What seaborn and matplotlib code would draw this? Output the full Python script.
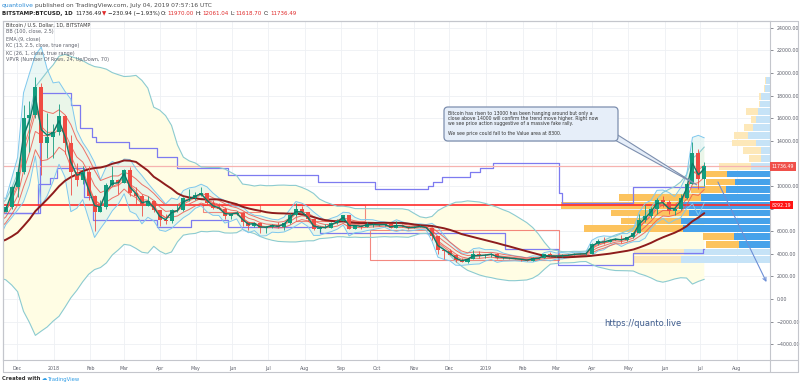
import numpy as np
import pandas as pd
import matplotlib
matplotlib.use("Agg")
import matplotlib.pyplot as plt
import matplotlib.dates as mdates
import matplotlib.transforms as mtransforms
from matplotlib.patches import FancyBboxPatch, Polygon, Rectangle
from matplotlib.lines import Line2D
from matplotlib.ticker import FuncFormatter
import seaborn as sns

sns.set_theme(style="white")
plt.rcParams["font.family"] = ["DejaVu Sans"]

# ---------------- data (5-day bars, BITSTAMP:BTCUSD) ----------------
first_bar = "2017-08-11"
bar_days = 5
first_open = 3650
close = [4150, 4100, 4350, 4580, 4230, 4300, 3250, 3900, 3650, 4200, 4230, 4600, 5640, 5600, 5520, 5750, 7150, 7450, 6500, 7700,
         8100, 9900, 11200, 16000, 16300, 18800, 13800, 14300, 14800, 16200, 13800, 11200, 10500, 11200, 9100, 7700, 8100, 10100,
         10500, 10300, 11400, 9400, 9100, 8200, 8700, 7900, 7000, 6900, 7900, 7900, 8900, 8900, 9200, 9400, 8500, 8050, 8000, 7350,
         7500, 7650, 6800, 6450, 6700, 6250, 6350, 6550, 6400, 6700, 7400, 7950, 7700, 7050, 6150, 6300, 6300, 6700, 6900, 7400,
         6200, 6500, 6400, 6600, 6600, 6550, 6600, 6300, 6550, 6450, 6250, 6350, 6450, 6300, 5550, 4300, 4250, 3900, 3450, 3300,
         3550, 3950, 3850, 3900, 4000, 3650, 3650, 3600, 3550, 3500, 3400, 3600, 3620, 3950, 3800, 3800, 3850, 3870, 3990, 3990,
         4020, 4900, 5150, 5050, 5250, 5350, 5200, 5450, 5800, 7000, 7350, 7950, 8750, 8550, 7800, 8000, 8900, 10200, 12900, 10600,
         11736.49]
high = [4400, 4480, 4400, 4650, 4980, 4700, 4400, 4100, 4100, 4250, 4450, 4650, 5850, 5850, 6170, 6000, 7400, 7800, 7500, 7900,
        8300, 9970, 11500, 17200, 17500, 19666, 19100, 16500, 15500, 17250, 16300, 14500, 12000, 11800, 11800, 9200, 8800, 10300,
        11800, 10600, 11500, 11700, 9900, 9300, 9100, 8800, 7900, 7500, 8000, 8400, 9000, 9700, 9500, 9950, 9400, 8800, 8500, 8100,
        7550, 7750, 7700, 6850, 6850, 6750, 6450, 6650, 6800, 6750, 7600, 8450, 8250, 7700, 7150, 6500, 6600, 6800, 7100, 7400,
        7400, 6550, 6550, 6800, 6700, 6650, 6650, 6600, 6900, 6600, 6500, 6450, 6550, 6450, 6300, 5550, 4300, 4400, 3950, 3600,
        3580, 4300, 4250, 3950, 4100, 4100, 3700, 3700, 3650, 3550, 3500, 3700, 3670, 4000, 4200, 3880, 3950, 3950, 4050, 4050,
        4050, 4950, 5300, 5450, 5280, 5400, 5650, 5450, 5950, 7500, 8350, 8100, 8900, 9100, 8800, 8150, 9300, 10250, 13880, 13300,
        12100]
low = [3450, 3950, 3950, 4300, 4120, 4150, 3000, 3000, 3600, 3650, 4150, 4150, 4600, 5400, 5100, 5400, 5700, 6950, 5500, 6300,
       7700, 8000, 9000, 11100, 13000, 16000, 11000, 12500, 12500, 14500, 12800, 9200, 10000, 10200, 8800, 6000, 7700, 8000,
       10000, 9300, 10300, 9100, 8300, 7300, 8200, 7700, 6500, 6600, 6700, 7700, 7800, 8700, 8800, 9100, 8300, 8000, 7950, 7050,
       7100, 7400, 6500, 6100, 6400, 5800, 5800, 6300, 6300, 6100, 6650, 7350, 7650, 6900, 6100, 5900, 6300, 6250, 6600, 6900,
       6150, 6200, 6150, 6400, 6350, 6450, 6500, 6250, 6300, 6400, 6200, 6250, 6350, 6250, 5200, 4000, 3500, 3850, 3250, 3300,
       3150, 3550, 3600, 3650, 3750, 3550, 3500, 3500, 3500, 3380, 3350, 3380, 3560, 3620, 3750, 3750, 3680, 3850, 3850, 3950,
       3900, 3950, 4800, 4900, 5050, 5200, 4950, 5150, 5400, 5800, 6800, 7200, 7500, 8100, 7500, 7450, 7900, 8850, 10200, 9700,
       10000]

# Volume profile (VPVR, 24 rows, bottom -> top)
vp_low, vp_high = 3120, 19666
vp_up = [47, 50, 33, 31, 99, 60, 78, 120, 82, 35, 29, 23, 32, 12, 18, 24, 14, 9, 5, 12, 1, 2, 1, 1]
vp_down = [89, 86, 31, 36, 87, 89, 81, 89, 69, 44, 35, 43, 19, 9, 9, 14, 22, 17, 14, 12, 10, 9, 5, 4]
value_area_rows = (2, 11)
poc_price = 8292.19
last_price = 11736.49

# step lines drawn on the chart
upper_step_dates = ["2017-11-19", "2017-12-20", "2018-01-16", "2018-01-23", "2018-02-02", "2018-02-06", "2018-03-06",
                    "2018-03-29", "2018-04-15", "2018-05-28", "2018-08-12", "2018-09-29", "2018-11-13", "2018-11-17",
                    "2018-11-25", "2018-12-19", "2018-12-27", "2019-01-07", "2019-03-04", "2019-03-06", "2019-05-05",
                    "2019-07-04"]
upper_step_levels = [7600, 18200, 17200, 15100, 14300, 13900, 13400, 12600, 11600, 11000, 10350, 9750, 10000, 10350,
                     10800, 11250, 11600, 12050, 9400, 8500, 9900, 9900]
lower_step_dates = ["2017-11-19", "2017-12-19", "2017-12-29", "2018-01-04", "2018-01-27", "2018-02-03", "2018-03-29",
                    "2018-04-27", "2018-05-28", "2018-08-14", "2019-01-17", "2019-03-03", "2019-05-05", "2019-07-03",
                    "2019-07-04"]
lower_step_levels = [7600, 10200, 10700, 11600, 9000, 7000, 6400, 7000, 6400, 5850, 4450, 3000, 4050, 4450, 4450]

# red rectangles (start, end, top, bottom)
rect_start = ["2018-05-07", "2018-07-25", "2018-09-25"]
rect_end = ["2018-06-24", "2018-09-21", "2019-03-04"]
rect_top = [8300, 8300, 6100]
rect_bottom = [7700, 6900, 3450]

month_ticks = pd.date_range("2017-12-01", "2019-08-01", freq="MS")
hidden_price_labels = [8000, 12000]   # covered by the price tags in the original

# ---------------- indicators ----------------
dates = pd.date_range(first_bar, periods=len(close), freq=f"{bar_days}D")
df = pd.DataFrame({"close": close, "high": high, "low": low}, index=dates)
df["open"] = df["close"].shift(1).fillna(first_open)
xc = mdates.date2num(dates) + bar_days / 2.0

c = df["close"]
w = int(round(100 / bar_days))
bb_basis = c.rolling(w, min_periods=1).mean()
bb_sd = c.rolling(w, min_periods=2).std(ddof=0).bfill()
bb_up = bb_basis + 2.5 * bb_sd
bb_lo = bb_basis - 2.5 * bb_sd
ema9 = c.ewm(span=9 / bar_days, adjust=False).mean()
prev = c.shift(1).fillna(first_open)
tr = pd.concat([df.high - df.low, (df.high - prev).abs(), (df.low - prev).abs()], axis=1).max(axis=1)
tr_daily = tr / np.sqrt(bar_days)
kc13_b = c.ewm(span=13 / bar_days, adjust=False).mean()
atr13 = tr_daily.ewm(span=13 / bar_days, adjust=False).mean()
kc13_u, kc13_l = kc13_b + 2.5 * atr13, kc13_b - 2.5 * atr13
kc26_b = c.ewm(span=26 / bar_days, adjust=False).mean()
atr26 = tr_daily.ewm(span=26 / bar_days, adjust=False).mean()
kc26_u, kc26_l = kc26_b + 1.0 * atr26, kc26_b - 1.0 * atr26

# ---------------- figure ----------------
W_PX, H_PX = 800, 387
fig = plt.figure(figsize=(W_PX / 100, H_PX / 100), dpi=100, facecolor="white")
PX = mtransforms.Affine2D().scale(1, -1).translate(0, H_PX)
L, R, T, B = 3, 770, 21, 360
ax = fig.add_axes([L / W_PX, 1 - B / H_PX, (R - L) / W_PX, (B - T) / H_PX])

xmin = mdates.date2num(pd.Timestamp("2017-11-19 04:00"))
xmax = mdates.date2num(pd.Timestamp("2019-08-29"))

# grid
for m in month_ticks:
    ax.axvline(mdates.date2num(m), color="#eef0f4", lw=0.6, zorder=0)
for yv in range(-4000, 24001, 2000):
    ax.axhline(yv, color="#eef0f4", lw=0.6, zorder=0)

# BB fill + KC13 fill
ax.fill_between(xc, bb_lo, bb_up, color="#fffde4", zorder=1, lw=0)
ax.fill_between(xc, kc13_l, kc13_u, color="#d9f1ee", alpha=0.55, zorder=1.2, lw=0)

# VPVR (anchored to the right edge of the price pane)
nrows = len(vp_up)
row_h = (vp_high - vp_low) / nrows
centers = vp_low + (np.arange(nrows) + 0.5) * row_h
tot = np.array(vp_up) + np.array(vp_down)
full = tot.max() / 0.2725
vp_tr = mtransforms.blended_transform_factory(ax.transAxes, ax.transData)
in_va = (np.arange(nrows) >= value_area_rows[0]) & (np.arange(nrows) <= value_area_rows[1])
col_dn = ["#46a2ea" if v else "#c6e3f7" for v in in_va]
col_up = ["#fcc35e" if v else "#fde8b9" for v in in_va]
dn_frac = np.array(vp_down) / full
up_frac = np.array(vp_up) / full
ax.barh(centers, -dn_frac, left=1.0, height=row_h * 0.86, color=col_dn, lw=0, transform=vp_tr, zorder=1.5)
ax.barh(centers, -up_frac, left=1.0 - dn_frac, height=row_h * 0.86, color=col_up, lw=0, transform=vp_tr, zorder=1.5)

# step lines
sns.lineplot(x=mdates.date2num(pd.to_datetime(upper_step_dates)), y=upper_step_levels, ax=ax,
             drawstyle="steps-post", color="#7d7bf0", lw=0.9, zorder=2)
sns.lineplot(x=mdates.date2num(pd.to_datetime(lower_step_dates)), y=lower_step_levels, ax=ax,
             drawstyle="steps-post", color="#7d7bf0", lw=0.9, zorder=2)

# red rectangles
for s, e, t, b in zip(rect_start, rect_end, rect_top, rect_bottom):
    x0, x1 = mdates.date2num(pd.Timestamp(s)), mdates.date2num(pd.Timestamp(e))
    ax.add_patch(Rectangle((x0, b), x1 - x0, t - b, fill=False, ec="#f06a60", lw=0.8, alpha=0.8, zorder=2))

# horizontal lines
ax.axhline(last_price, color="#f6b3b0", lw=0.9, zorder=2)
ax.axhline(poc_price, color="#ff2b2b", lw=1.2, zorder=2.2)

# indicator lines
sns.lineplot(x=xc, y=bb_up.values, ax=ax, color="#8ccbd0", lw=0.8, zorder=2.5)
sns.lineplot(x=xc, y=bb_lo.values, ax=ax, color="#8ccbd0", lw=0.8, zorder=2.5)
sns.lineplot(x=xc, y=kc13_u.values, ax=ax, color="#7fc8ee", lw=0.7, zorder=2.8)
sns.lineplot(x=xc, y=kc13_l.values, ax=ax, color="#7fc8ee", lw=0.7, zorder=2.8)
sns.lineplot(x=xc, y=kc13_b.values, ax=ax, color="#f07a6a", lw=0.7, zorder=2.9)
for s_ in (kc26_u, kc26_b, kc26_l):
    sns.lineplot(x=xc, y=s_.values, ax=ax, color="#ee5a50", lw=0.7, alpha=0.85, zorder=3)
sns.lineplot(x=xc, y=bb_basis.values, ax=ax, color="#8e1c1c", lw=1.4, zorder=3.5)

# candles
up = df["close"] >= df["open"]
ccol = np.where(up, "#139c7e", "#ef4c43")
ax.vlines(xc, df["low"], df["high"], colors=ccol, lw=0.6, zorder=4)
ax.bar(xc, (df["close"] - df["open"]).values, bottom=df["open"].values, width=3.4,
       color=ccol, lw=0, zorder=4.1)
sns.lineplot(x=xc, y=ema9.values, ax=ax, color="#0d7a68", lw=1.0, zorder=5)

# axes cosmetics
ax.set_xlim(xmin, xmax)
ax.set_ylim(-5400, 24600)
ax.set_xticks(mdates.date2num(month_ticks))
ax.set_xticklabels([str(m.year) if m.month == 1 else m.strftime("%b") for m in month_ticks])
ax.set_yticks(range(-4000, 24001, 2000))
ax.yaxis.tick_right()
ax.yaxis.set_major_formatter(FuncFormatter(
    lambda v, p: "" if int(round(v)) in hidden_price_labels else f"{v:.2f}".replace("-", "\u2212")))
ax.tick_params(axis="both", labelsize=3.4, colors="#5d606b", length=2, width=0.5, pad=2)
ax.tick_params(axis="y", pad=3)
ax.set_xlabel("")
ax.set_ylabel("")
ax.grid(False)
for sp in ax.spines.values():
    sp.set_color("#c4c6cc")
    sp.set_linewidth(0.8)

# outer frame
def pxline(x0, y0, x1, y1, color="#c4c6cc", lw=0.8):
    fig.add_artist(Line2D([x0, x1], [y0, y1], transform=PX, color=color, lw=lw))

pxline(L, T, 798, T)
pxline(798, T, 798, 372)
pxline(L, 372, 798, 372)
pxline(L, T, L, 372)
pxline(R, B, 798, B)
pxline(R, B, R, 372)

# price tags
blend = mtransforms.blended_transform_factory(ax.transAxes, ax.transData)
ax.text(1.002, last_price, f"{last_price:.2f}", transform=blend, ha="left", va="center", fontsize=3.4,
        color="white", bbox=dict(boxstyle="square,pad=0.35", fc="#f0504a", ec="none"), clip_on=False, zorder=10)
ax.text(1.002, poc_price, f"{poc_price:.2f}", transform=blend, ha="left", va="center", fontsize=3.4,
        color="white", bbox=dict(boxstyle="square,pad=0.35", fc="#ff1414", ec="none"), clip_on=False, zorder=10)

# legend texts inside chart
legend_lines = ["Bitcoin / U.S. Dollar, 1D, BITSTAMP", "BB (100, close, 2.5)", "EMA (9, close)",
                "KC (13, 2.5, close, true range)", "KC (26, 1, close, true range)",
                "VPVR (Number Of Rows, 24, Up/Down, 70)"]
for i, s in enumerate(legend_lines):
    fig.text(6.5, 25 + i * 7, s, transform=PX, fontsize=3.5, color="#333333" if i == 0 else "#5d606b",
             va="center", ha="left", zorder=20)

# header
renderer = fig.canvas.get_renderer()
def seq_text(x, y, parts, size):
    for s, col, wt, gap in parts:
        t = fig.text(x, y, s, transform=PX, fontsize=size, color=col, fontweight=wt, va="center", ha="left")
        bb = t.get_window_extent(renderer=renderer)
        x = bb.x1 + gap

seq_text(2, 5, [("quantolive", "#2a8bd6", "normal", 1.5),
                ("published on TradingView.com, July 04, 2019 07:57:16 UTC", "#4a4a4a", "normal", 0)], 4.3)
seq_text(2, 13.5, [("BITSTAMP:BTCUSD, 1D", "#222222", "bold", 2.5),
                   ("11736.49", "#222222", "normal", 1),
                   ("\u25BC", "#e02a2a", "normal", 1),
                   ("\u2212230.94 (\u22121.93%)", "#222222", "normal", 1.5),
                   ("O:", "#222222", "normal", 0.8), ("11970.00", "#e02a2a", "normal", 1.5),
                   ("H:", "#222222", "normal", 0.8), ("12061.04", "#e02a2a", "normal", 1.5),
                   ("L:", "#222222", "normal", 0.8), ("11618.70", "#e02a2a", "normal", 1.5),
                   ("C:", "#222222", "normal", 0.8), ("11736.49", "#e02a2a", "normal", 0)], 4.0)

# callout
tail = Polygon([(613, 139), (617, 134.5), (697, 185)], closed=True, transform=PX,
               fc="#e6eef9", ec="#7d8fae", lw=0.8, zorder=30)
fig.add_artist(tail)
box = FancyBboxPatch((444, 107), 174, 34, boxstyle="round,pad=0,rounding_size=4", transform=PX,
                     fc="#e6eef9", ec="#7d8fae", lw=0.9, zorder=31)
fig.add_artist(box)
note = ("Bitcoin has risen to 13000 has been hanging around but only a\n"
        "close above 14000 will confirm the trend move higher. Right now\n"
        "we see price action suggestive of a massive fake rally.\n\n"
        "We see price could fall to the Value area at 8300.")
fig.text(448, 111, note, transform=PX, fontsize=3.3, color="#333333", va="top", ha="left",
         linespacing=0.98, zorder=32)

# arrow
ax.annotate("", xy=(mdates.date2num(pd.Timestamp("2019-08-26")), 1500),
            xytext=(mdates.date2num(pd.Timestamp("2019-07-16")), 10350),
            arrowprops=dict(arrowstyle="->", color="#6d8fd6", lw=0.8, shrinkA=0, shrinkB=0,
                            mutation_scale=6), zorder=8)

# watermark
fig.text(604, 323, "https://quanto.live", transform=PX, fontsize=6, color="#3d5b8c", va="center", ha="left")

# footer
seq_text(2, 379, [("Created with", "#333333", "bold", 1.5), ("\u2601", "#2e9ce6", "normal", 0.8),
                  ("TradingView", "#2e9ce6", "normal", 0)], 3.8)

fig.savefig("out.png", dpi=100, facecolor="white")
